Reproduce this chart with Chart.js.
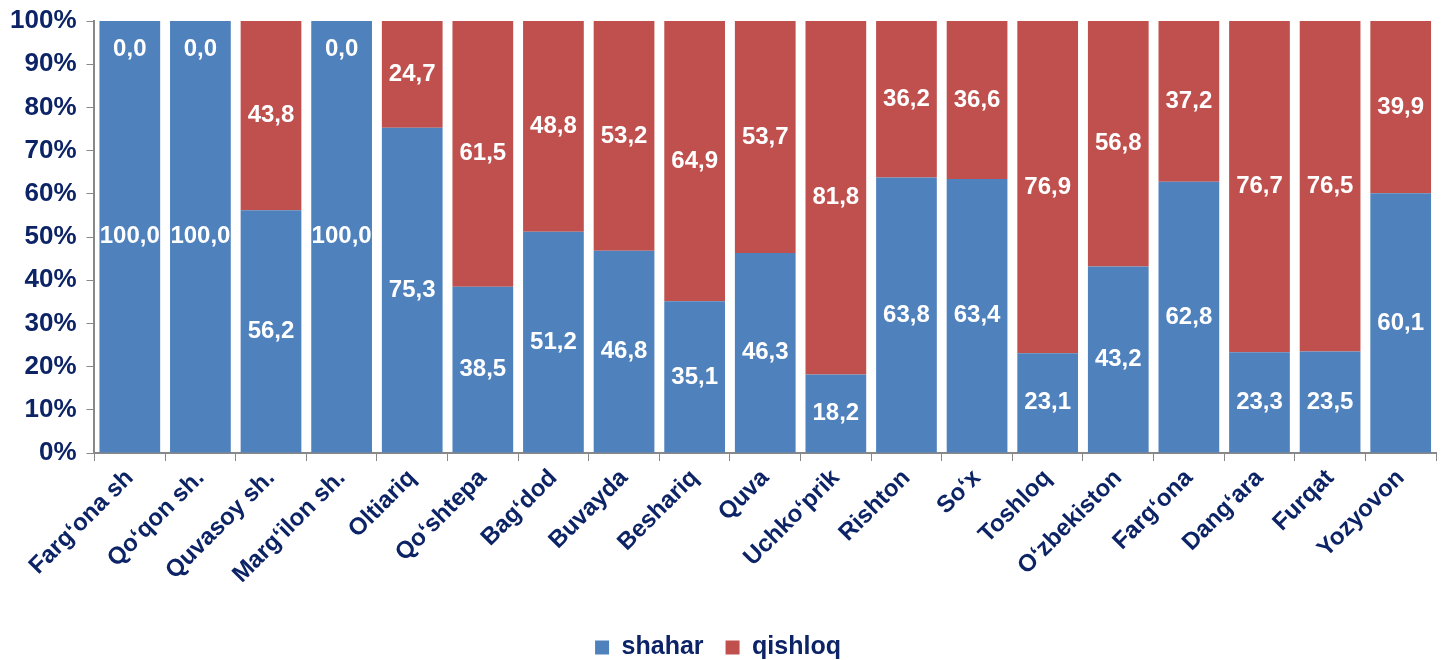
<!DOCTYPE html>
<html>
<head>
<meta charset="utf-8">
<script src="https://cdn.jsdelivr.net/npm/chart.js@4.4.1/dist/chart.umd.min.js"></script>
<style>
body { margin: 0; background: #fff; }
#wrap { width: 1442px; height: 660px; }
</style>
</head>
<body>
<div id="wrap"><canvas id="chart" width="1442" height="660"></canvas></div>
<script>
const categories = ["Farg‘ona sh", "Qo‘qon sh.", "Quvasoy sh.", "Marg‘ilon sh.", "Oltiariq", "Qo‘shtepa", "Bag‘dod", "Buvayda", "Beshariq", "Quva", "Uchko‘prik", "Rishton", "So‘x", "Toshloq", "O‘zbekiston", "Farg‘ona", "Dang‘ara", "Furqat", "Yozyovon"];
const shahar = [100, 100, 56.2, 100, 75.3, 38.5, 51.2, 46.8, 35.1, 46.3, 18.2, 63.8, 63.4, 23.1, 43.2, 62.8, 23.3, 23.5, 60.1];
const qishloq = [0, 0, 43.8, 0, 24.7, 61.5, 48.8, 53.2, 64.9, 53.7, 81.8, 36.2, 36.6, 76.9, 56.8, 37.2, 76.7, 76.5, 39.9];
const yTicks = [0, 10, 20, 30, 40, 50, 60, 70, 80, 90, 100];

const navy = "#0c2366";
const font = "'Liberation Sans', Arial, sans-serif";

/* value labels inside the bars */
const barLabels = {
  id: "barLabels",
  afterDatasetsDraw(chart) {
    const ctx = chart.ctx;
    ctx.save();
    ctx.font = "bold 24px " + font;
    ctx.fillStyle = "#fff";
    ctx.textAlign = "center";
    ctx.textBaseline = "middle";
    chart.data.datasets.forEach((ds, i) => {
      chart.getDatasetMeta(i).data.forEach((bar, j) => {
        let v = ds.data[j];
        let y = (bar.y + bar.base) / 2;
        if (v === 0) y = bar.y + 28;
        ctx.fillText(v.toFixed(1).replace(".", ","), bar.x, y);
      });
    });
    ctx.restore();
  }
};

/* shorter legend box so the legend sits lower */
const legendFit = {
  id: "legendFit",
  beforeUpdate(chart) {
    if (chart.legend && !chart.legend._patched) {
      const fit = chart.legend.fit;
      chart.legend.fit = function() {
        fit.call(this);
        this.height -= 10;
      };
      chart.legend._patched = true;
    }
  }
};

new Chart(document.getElementById("chart"), {
  type: "bar",
  data: {
    labels: categories,
    datasets: [
      { label: "shahar", data: shahar, backgroundColor: "#4f81bd" },
      { label: "qishloq", data: qishloq, backgroundColor: "#c0504d" }
    ]
  },
  options: {
    responsive: false,
    animation: false,
    layout: { padding: { left: 0, right: 6, top: 0, bottom: 0 } },
    datasets: { bar: { categoryPercentage: 1, barPercentage: 0.86 } },
    scales: {
      x: {
        stacked: true,
        afterFit: scale => { scale.height = 160; },
        grid: { drawOnChartArea: false, color: "#888", tickLength: 8, offset: true },
        border: { color: "#888", width: 2 },
        ticks: {
          color: navy,
          font: { family: font, size: 24, weight: "bold" },
          maxRotation: 45,
          minRotation: 45,
          autoSkip: false,
          padding: 3
        }
      },
      y: {
        stacked: true,
        min: 0,
        max: 100,
        afterBuildTicks: axis => { axis.ticks = yTicks.map(v => ({ value: v })); },
        afterFit: scale => { scale.paddingTop = 21; },
        grid: { drawOnChartArea: false, color: "#888", tickLength: 8 },
        border: { color: "#888", width: 2 },
        ticks: {
          color: navy,
          font: { family: font, size: 26, weight: "bold" },
          callback: v => v + "%",
          padding: 10
        }
      }
    },
    plugins: {
      legend: {
        position: "bottom",
        labels: {
          color: navy,
          font: { family: font, size: 25, weight: "bold" },
          boxWidth: 14,
          boxHeight: 14,
          padding: 22
        }
      },
      tooltip: { enabled: false }
    }
  },
  plugins: [barLabels, legendFit]
});
</script>
</body>
</html>
